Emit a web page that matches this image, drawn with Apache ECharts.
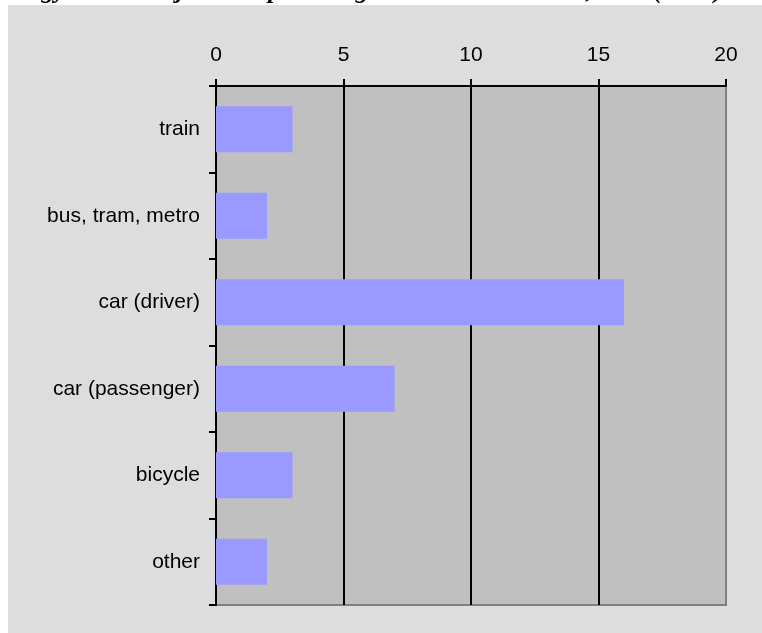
<!DOCTYPE html>
<html>
<head>
<meta charset="utf-8">
<script src="https://cdn.jsdelivr.net/npm/echarts@6/dist/echarts.min.js"></script>
<style>
html,body{margin:0;padding:0;background:#fff;}
#c{width:762px;height:633px;}
</style>
</head>
<body>
<div id="c"></div>
<script>
const titleText = "Energy use in major transport usage in the Netherlands, total (2000)";
const categories = ["train", "bus, tram, metro", "car (driver)", "car (passenger)", "bicycle", "other"];
const values = [3, 2, 16, 7, 3, 2];
const xTicks = [0, 5, 10, 15, 20];

const chart = echarts.init(document.getElementById('c'), null, {renderer: 'canvas'});
chart.setOption({
  animation: false,
  backgroundColor: '#ffffff',
  graphic: [
    {type: 'rect', shape: {x: 8, y: 5, width: 754, height: 628}, style: {fill: '#DDDDDD'}, z: -10},
    {type: 'text', x: -12, y: -9, style: {text: titleText, font: 'italic bold 26px "Liberation Serif"', fill: '#000', textVerticalAlign: 'middle'}, z: 10}
  ],
  grid: {left: 216, top: 86, right: 36, bottom: 28, show: true, backgroundColor: '#C0C0C0', borderColor: '#808080', borderWidth: 2, containLabel: false},
  xAxis: {
    type: 'value', position: 'top', min: xTicks[0], max: xTicks[xTicks.length - 1], interval: 5,
    axisLine: {show: true, lineStyle: {color: '#000', width: 2}},
    axisTick: {show: true, length: 7, lineStyle: {color: '#000', width: 2}},
    axisLabel: {color: '#000', fontSize: 21, fontFamily: '"Liberation Sans", Arial', margin: 20},
    splitLine: {show: true, lineStyle: {color: ['#000', '#000', '#000', '#000', '#808080'], width: 2}}
  },
  yAxis: {
    type: 'category', data: categories, inverse: true,
    axisLine: {show: true, lineStyle: {color: '#000', width: 2}},
    axisTick: {show: true, length: 7, lineStyle: {color: '#000', width: 2}},
    axisLabel: {color: '#000', fontSize: 21, fontFamily: '"Liberation Sans", Arial', margin: 16},
    splitLine: {show: false}
  },
  series: [{
    type: 'bar', data: values, barCategoryGap: '47%',
    itemStyle: {color: '#9999FF'}
  }]
});
</script>
</body>
</html>
